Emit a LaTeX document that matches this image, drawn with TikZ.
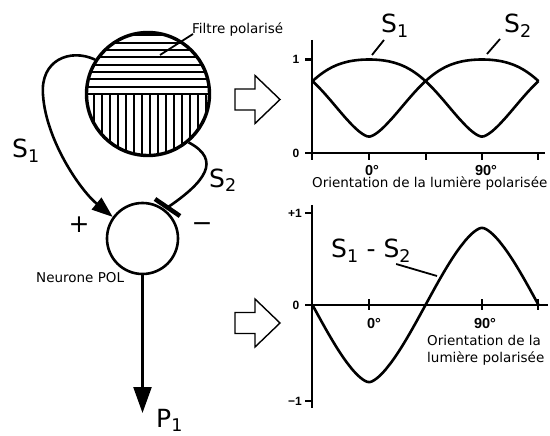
\documentclass[tikz,border=0pt]{standalone}
\usepackage{fontspec}
\setmainfont{DejaVu Sans}
\newfontfamily\gradfont{Liberation Sans}
\usetikzlibrary{arrows.meta}

\tikzset{
	declare function={
		ga(\t)=((sqrt(cos(\t)^2+0.08)-0.2827)/0.7565)^0.72;
		gb(\t)=cos(\t)^2+0.22*sin(2*\t)^2;
		g(\t)=0.5*ga(\t)+0.5*gb(\t);},
	courbe/.style={line width=2.6pt, line join=round},
	axe/.style={line width=2.2pt},
	gros/.style={inner sep=0pt, font=\fontsize{25}{27}\selectfont},
	petit/.style={inner sep=0pt, font=\fontsize{13.5}{17}\selectfont},
	grad/.style={inner sep=0pt, font=\gradfont\bfseries\fontsize{14.5}{15}\selectfont},
	gradpetit/.style={inner sep=0pt, font=\gradfont\bfseries\fontsize{12}{13}\selectfont},
	fleche/.style={line width=1.4pt, line join=miter},
}

\begin{document}
\begin{tikzpicture}[x=1pt,y=1pt,yscale=-1,xscale=1]
			\useasboundingbox (0,0) rectangle (550,436);
			
			%Shape: Circle (filtre)
			\begin{scope}
				\clip (148,94) circle (61pt);
				\foreach \k in {0,...,8}
					\draw[line width=1.9pt] (80,94-7.33*\k) -- (220,94-7.33*\k);
				\foreach \k in {-1,...,15}
					\draw[line width=1.9pt] (94+8*\k,94) -- (94+8*\k,160);
			\end{scope}
			\node[circle, draw, line width=3.4pt, minimum size=123pt, inner sep=0pt] (filtre) at (148,94) {};
			%Shape: Circle (neurone)
			\node[circle, draw, line width=2.6pt, minimum size=71pt, inner sep=0pt] (neurone) at (142.5,238.5) {};
			\coordinate (sortie) at (142.5,413);
			\coordinate (barre) at (167.5,207.5);
			\coordinate (barreA) at (155,199);
			\coordinate (barreB) at (180,216);
			
			%Curves S1, S2 and output
			\draw[courbe, -{Triangle[length=21pt,width=15pt]}] (filtre.147) .. controls (70,48) and (40,60) .. (43,95) .. controls (46,140) and (80,190) .. (neurone.144);
			\draw[courbe] (filtre.-50) .. controls (222,160) and (205,182) .. (barre);
			\draw[line width=4.5pt] (barreA) -- (barreB);
			\draw[line width=2.4pt, -{Triangle[length=26pt,width=18pt]}] (neurone.south) -- (sortie);
			
			% Text Node
			\node[petit, anchor=base west] (lblfiltre) at (192,34) {Filtre polarisé};
			\coordinate (pfiltre) at (160,55);
			\draw[line width=1.8pt] ([xshift=1pt]lblfiltre.base west) -- (pfiltre);
			% Text Node
			\node[gros, anchor=base west] (lblS1) at (12,158) {S\textsubscript{1}};
			% Text Node
			\node[gros, anchor=base west] (lblS2) at (209,187) {S\textsubscript{2}};
			% Text Node
			\node[gros, anchor=base] (plus) at (79,233) {+};
			% Text Node
			\node[gros, anchor=base] (moins) at (202,231) {−};
			% Text Node
			\node[petit, anchor=base west] (lblneurone) at (36,283) {Neurone POL};
			% Text Node
			\node[gros, anchor=base west] (lblP1) at (156,427) {P\textsubscript{1}};
			
			%Block arrows
			\foreach \yc in {99.5,323}
				\draw[fleche] (235,\yc-10.5) -- (255,\yc-10.5) -- (255,\yc-24) -- (280,\yc) -- (255,\yc+24) -- (255,\yc+10.5) -- (235,\yc+10.5) -- cycle;
			
			%Graph: S1 and S2
			\draw[axe] (312,40) -- (312,153);
			\draw[axe] (305,153) -- (545,153);
			\draw[axe] (305,59.5) -- (312,59.5);
			\foreach \xt in {312,369,426,482,538}
				\draw[axe] (\xt,153) -- (\xt,160);
			\draw[courbe] plot[domain=-45:135, samples=100] ({369+113/90*\x}, {153-93.5*(0.174+0.826*g(\x))});
			\draw[courbe] plot[domain=-45:135, samples=100] ({369+113/90*\x}, {153-93.5*(0.174+0.826*g(\x+90))});
			\node[gradpetit] (g1) at (296,59.5) {1};
			\node[gradpetit] (g0) at (296,153) {0};
			\node[grad] (g00) at (372,170.5) {0°};
			\node[grad] (g90) at (486,170.5) {90°};
			\node[petit, anchor=base west] (axeh) at (312,188) {Orientation de la lumière polarisée};
			\node[gros, anchor=base west] (lblhS1) at (381,33) {S\textsubscript{1}};
			\node[gros, anchor=base west] (lblhS2) at (504,33) {S\textsubscript{2}};
			\coordinate (pS1) at (372,55);
			\coordinate (pS2) at (487,54);
			\draw[line width=1.8pt] ([xshift=3pt,yshift=7pt]lblhS1.base west) -- (pS1);
			\draw[line width=1.8pt] ([xshift=-4pt,yshift=6pt]lblhS2.base west) -- (pS2);
			
			%Graph: S1 - S2
			\draw[axe] (312,205) -- (312,408);
			\draw[axe] (305,305) -- (548,305);
			\draw[axe] (305,213) -- (312,213);
			\draw[axe] (305,401) -- (312,401);
			\foreach \xt in {369,482,538}
				\draw[axe] (\xt,299) -- (\xt,310);
			\draw[courbe] plot[domain=-45:135, samples=100] ({369+113/90*\x}, {305+92*0.84*(g(\x)-g(\x+90))});
			\node[gradpetit, anchor=east] (gp1) at (302,213) {+1};
			\node[gradpetit] (gz) at (296,305) {0};
			\node[gradpetit, anchor=east] (gm1) at (302,401) {−1};
			\node[grad] (h00) at (374,324) {0°};
			\node[grad] (h90) at (485,324) {90°};
			\node[petit, anchor=north west, align=left] (axeb) at (427,335) {Orientation de la\\lumière polarisée};
			\node[gros, anchor=base west] (lbldiff) at (331,258) {S\textsubscript{1} - S\textsubscript{2}};
			\coordinate (pdiff) at (437,276);
			\draw[line width=1.8pt] ([xshift=25pt,yshift=6pt]lbldiff.base) -- (pdiff);
		\end{tikzpicture}
\end{document}
